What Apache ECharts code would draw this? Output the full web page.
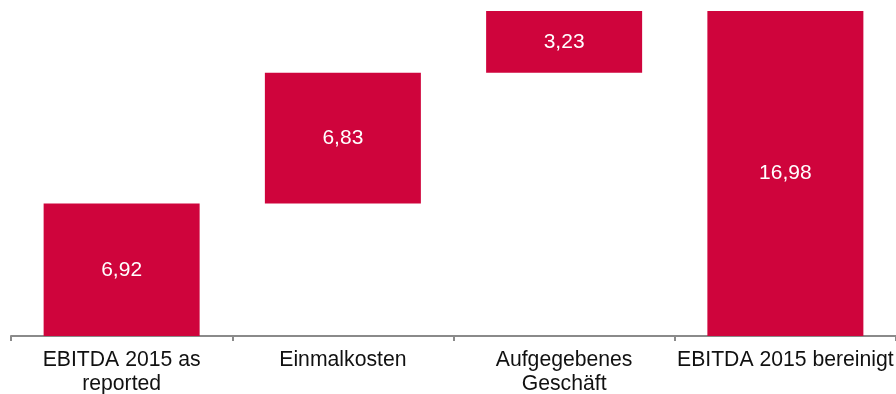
<!DOCTYPE html>
<html>
<head>
<meta charset="utf-8">
<script src="https://cdn.jsdelivr.net/npm/echarts@6/dist/echarts.min.js"></script>
<style>html,body{margin:0;padding:0;background:#fff}#c{width:896px;height:394px}</style>
</head>
<body>
<div id="c"></div>
<script>
var categories = ['EBITDA 2015 as\nreported', 'Einmalkosten', 'Aufgegebenes\nGeschäft', 'EBITDA 2015 bereinigt'];
var values = [6.92, 6.83, 3.23, 16.98];
var isTotal = [false, false, false, true];

var bases = [];
var running = 0;
for (var i = 0; i < values.length; i++) {
  if (isTotal[i]) { bases.push(0); }
  else { bases.push(Math.round(running * 100) / 100); running += values[i]; }
}
var yMax = values[values.length - 1];

var chart = echarts.init(document.getElementById('c'), null, {renderer: 'canvas'});
chart.setOption({
  animation: false,
  grid: {left: 11, right: 0, top: 11, bottom: 58, containLabel: false, outerBoundsMode: 'none'},
  xAxis: {
    type: 'category',
    data: categories,
    boundaryGap: true,
    axisLine: {lineStyle: {color: '#8a8a8a', width: 2}},
    axisTick: {show: true, length: 5, lineStyle: {color: '#8a8a8a', width: 2}},
    axisLabel: {color: '#111', fontFamily: 'Liberation Sans, Arial, sans-serif', fontSize: 21.2, lineHeight: 24, margin: 12, interval: 0}
  },
  yAxis: {
    type: 'value', min: 0, max: yMax, show: false,
    splitLine: {show: false}
  },
  series: [
    {
      type: 'bar', stack: 'w', data: bases, barWidth: 156,
      itemStyle: {color: 'transparent'}, silent: true
    },
    {
      type: 'bar', stack: 'w', data: values, barWidth: 156,
      itemStyle: {color: '#CF043C'},
      label: {
        show: true, position: 'inside', color: '#fff',
        fontFamily: 'Liberation Sans, Arial, sans-serif', fontSize: 21,
        formatter: function (p) { return p.value.toFixed(2).replace('.', ','); }
      }
    }
  ]
});
</script>
</body>
</html>
